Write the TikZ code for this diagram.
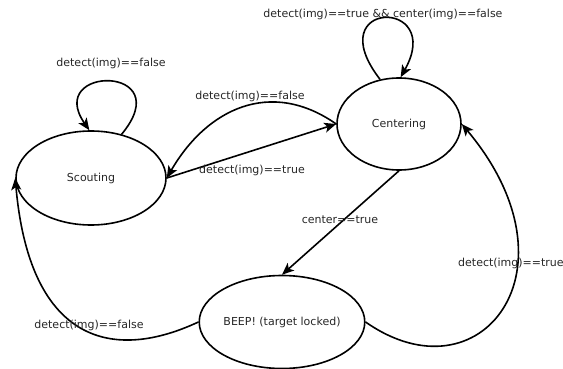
\documentclass[tikz,border=0pt]{standalone}
\usepackage{fontspec}
\setmainfont{DejaVu Sans}
\usetikzlibrary{shapes.geometric}
\usetikzlibrary{arrows.meta}

\tikzset{
  state/.style={ellipse,draw,line width=1.6pt,inner sep=0pt},
  trans/.style={line width=1.6pt,-{Stealth[length=12pt,width=10pt,inset=3pt]}},
  lbl/.style={inner sep=0pt,text=black!85,font=\fontsize{11}{13}\selectfont}
}

\begin{document}
\begin{tikzpicture}[x=1pt,y=1pt]
\useasboundingbox (0,0) rectangle (563,-369);
\node[state,minimum width=150pt,minimum height=94pt,lbl] (scout) at (91,-178) {Scouting};
\node[state,minimum width=124pt,minimum height=92pt,lbl] (center) at (399,-124) {Centering};
\node[state,minimum width=157pt,minimum height=93pt,lbl] (beep) at (282,-322) {BEEP! (target locked)};
\draw[trans] (scout.55) .. controls +(58,70) and +(-45,65) .. (scout.92);
\draw[trans] (center.west) .. controls +(145:80) and +(60:80) .. (scout.east);
\draw[trans] (scout.east) -- (center.west);
\draw[trans] (center.113) .. controls +(-62,80) and +(45,80) .. (center.88);
\draw[trans] (center.south) -- (beep.north);
\draw[trans] (beep.east) .. controls +(-35:140) and +(-50:190) .. (center.east);
\draw[trans] (beep.west) .. controls +(205:100) and +(-85:160) .. (scout.west);
\node[lbl] (l1) at (111,-63) {detect(img)==false};
\node[lbl] (l2) at (250,-96) {detect(img)==false};
\node[lbl] (l3) at (252,-170) {detect(img)==true};
\node[lbl] (l4) at (383,-14) {detect(img)==true \&\& center(img)==false};
\node[lbl] (l5) at (340,-220) {center==true};
\node[lbl,anchor=west] (l6) at (458,-263) {detect(img)==true};
\node[lbl] (l7) at (89,-325) {detect(img)==false};
\end{tikzpicture}
\end{document}
